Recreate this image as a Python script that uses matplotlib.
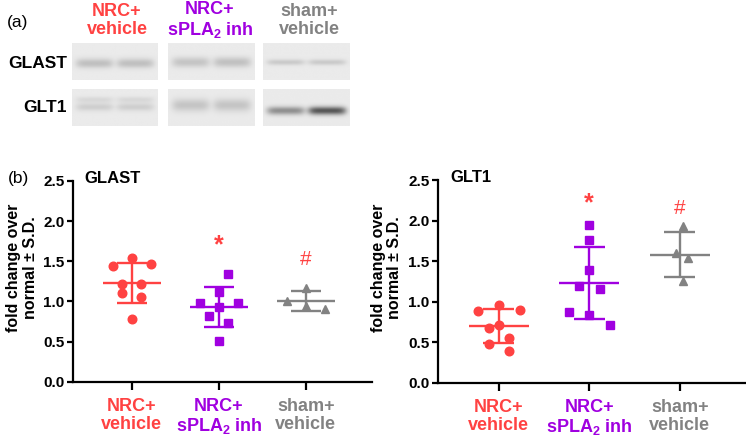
import numpy as np
import matplotlib
matplotlib.use('Agg')
import matplotlib.pyplot as plt

plt.rcParams['font.family'] = ['Liberation Sans', 'DejaVu Sans']
plt.rcParams['mathtext.fontset'] = 'custom'
plt.rcParams['mathtext.rm'] = 'Liberation Sans:bold'
plt.rcParams['mathtext.it'] = 'Liberation Sans:bold'
plt.rcParams['mathtext.bf'] = 'Liberation Sans:bold'

#group names and colours
groups = ['NRC+\nvehicle', 'NRC+\nsPLA$_2$ inh', 'sham+\nvehicle']
colors = ['#FF4242', '#A000E0', '#828282']
markers = ['o', 's', '^']

#GLAST values (fold change over normal) and horizontal jitter
glast_nrc = [1.44, 1.54, 1.47, 1.22, 1.22, 1.11, 1.05, 0.78]
glast_nrc_dx = [-0.22, 0, 0.22, -0.11, 0.11, -0.11, 0.11, 0]
glast_inh = [1.34, 1.12, 0.98, 0.98, 0.93, 0.82, 0.73, 0.51]
glast_inh_dx = [0.11, 0, -0.22, 0.22, 0, -0.11, 0.11, 0]
glast_sham = [1.01, 1.17, 0.94, 0.90]
glast_sham_dx = [-0.22, 0, 0, 0.22]

#GLT1 values
glt1_nrc = [0.89, 0.96, 0.90, 0.68, 0.71, 0.56, 0.48, 0.40]
glt1_nrc_dx = [-0.23, 0, 0.23, -0.11, 0, 0.11, -0.11, 0.11]
glt1_inh = [1.95, 1.76, 1.39, 1.20, 1.16, 0.87, 0.84, 0.72]
glt1_inh_dx = [0, 0, 0, -0.11, 0.12, -0.22, 0, 0.23]
glt1_sham = [1.93, 1.60, 1.54, 1.26]
glt1_sham_dx = [0.03, -0.04, 0.09, 0.03]

#significance marks: (group, y, symbol)
glast_sig = [(1, 1.70, '*'), (2, 1.52, '#')]
glt1_sig = [(1, 2.21, '*'), (2, 2.15, '#')]

W, H = 746, 437
fig = plt.figure(figsize=(W / 100, H / 100), dpi=100)

def px_axes(x0, y0, x1, y1):
    return fig.add_axes([x0 / W, 1 - y1 / H, (x1 - x0) / W, (y1 - y0) / H])

# ---------------- (a) blots ----------------
def blot(bands, lanes=(1.0, 1.0), bg=0.92):
    y = np.linspace(0, 1, 40)[:, None]
    x = np.linspace(0, 1, 90)[None, :]
    img = np.full((40, 90), bg)
    lane = lanes[0] * np.exp(-((x - 0.26) / 0.22) ** 6) + lanes[1] * np.exp(-((x - 0.74) / 0.22) ** 6)
    for yc, w, d in bands:
        img = img - d * lane * np.exp(-((y - yc) / w) ** 2)
    return img

blot_cols = [(72, 158), (168, 255), (263, 350)]
blot_rows = [(43, 80), (89, 126)]
glast_bands = [([(0.55, 0.13, 0.17)], (1.0, 1.0)),
               ([(0.52, 0.14, 0.15)], (1.0, 1.1)),
               ([(0.52, 0.08, 0.13)], (1.0, 1.0))]
glt1_bands = [([(0.3, 0.08, 0.07), (0.5, 0.11, 0.11)], (1.0, 1.0)),
              ([(0.45, 0.17, 0.15)], (1.0, 1.0)),
              ([(0.6, 0.11, 0.45)], (0.8, 1.3))]
for ri, bands_row in enumerate([glast_bands, glt1_bands]):
    for ci, (bands, lanes) in enumerate(bands_row):
        x0, x1 = blot_cols[ci]
        y0, y1 = blot_rows[ri]
        bax = px_axes(x0, y0, x1, y1)
        bax.imshow(blot(bands, lanes), cmap='gray', vmin=0, vmax=1, aspect='auto', interpolation='bilinear')
        bax.axis('off')

fig.text(7 / W, 1 - 22 / H, '(a)', fontsize=12.5, va='center', ha='left')
fig.text(67 / W, 1 - 63 / H, 'GLAST', fontsize=12.5, fontweight='bold', ha='right', va='center')
fig.text(67 / W, 1 - 108 / H, 'GLT1', fontsize=12.5, fontweight='bold', ha='right', va='center')
for xc, g, c in zip([117, 210, 309], groups, colors):
    fig.text(xc / W, 1 - 20.5 / H, g, fontsize=13, fontweight='bold', color=c, ha='center', va='center', linespacing=1.1)

# ---------------- (b) scatter panels ----------------
def panel(ax, data, dxs, sig, title, xlim):
    for i, (vals, dx) in enumerate(zip(data, dxs)):
        vals = np.array(vals)
        m = vals.mean()
        sd = vals.std(ddof=1)
        ax.plot(i + np.array(dx), vals, linestyle='none', marker=markers[i], color=colors[i],
                ms=6.2 if i != 1 else 5.6, zorder=3)
        ax.hlines(m, i - 0.33, i + 0.33, color=colors[i], lw=1.7, zorder=2)
        ax.hlines([m - sd, m + sd], i - 0.17, i + 0.17, color=colors[i], lw=1.7, zorder=2)
        ax.vlines(i, m - sd, m + sd, color=colors[i], lw=1.7, zorder=2)
    for i, yv, s in sig:
        ax.text(i, yv, s, color='#FF4242', ha='center', va='center',
                fontsize=18 if s == '*' else 15, fontweight='bold' if s == '*' else 'normal')
    ax.set_xlim(*xlim)
    ax.set_ylim(0, 2.5)
    ax.set_yticks([0, 0.5, 1.0, 1.5, 2.0, 2.5])
    ax.set_yticklabels(['0.0', '0.5', '1.0', '1.5', '2.0', '2.5'])
    ax.set_xticks([0, 1, 2])
    ax.set_xticklabels(groups)
    for lab, c in zip(ax.get_xticklabels(), colors):
        lab.set_color(c)
        lab.set_fontweight('bold')
        lab.set_fontsize(13)
        lab.set_linespacing(1.1)
    for lab in ax.get_yticklabels():
        lab.set_fontweight('bold')
        lab.set_fontsize(11)
    ax.spines['top'].set_visible(False)
    ax.spines['right'].set_visible(False)
    ax.spines['left'].set_linewidth(1.6)
    ax.spines['bottom'].set_linewidth(1.6)
    ax.spines['left'].set_bounds(0, 2.5)
    ax.tick_params(axis='y', length=4, width=1.6, pad=2)
    ax.tick_params(axis='x', length=5.5, width=1.6, pad=6)
    ax.set_ylabel('fold change over\nnormal ± S.D.', fontsize=11.5, fontweight='bold', linespacing=1.1)
    ax.yaxis.set_label_coords(-0.117, 0.566)
    ax.text(0.04, 2.53, title, fontsize=12, fontweight='bold', ha='left', va='center',
            transform=ax.get_yaxis_transform())

ax1 = px_axes(72.7, 181, 372, 381.7)
panel(ax1, [glast_nrc, glast_inh, glast_sham], [glast_nrc_dx, glast_inh_dx, glast_sham_dx],
      glast_sig, 'GLAST', (-0.68, 2.76))

ax2 = px_axes(438, 180, 745, 383)
panel(ax2, [glt1_nrc, glt1_inh, glt1_sham], [glt1_nrc_dx, glt1_inh_dx, glt1_sham_dx],
      glt1_sig, 'GLT1', (-0.67, 2.72))

fig.text(8 / W, 1 - 178 / H, '(b)', fontsize=12.5, va='center', ha='left')

plt.savefig('out.png', dpi=100)
